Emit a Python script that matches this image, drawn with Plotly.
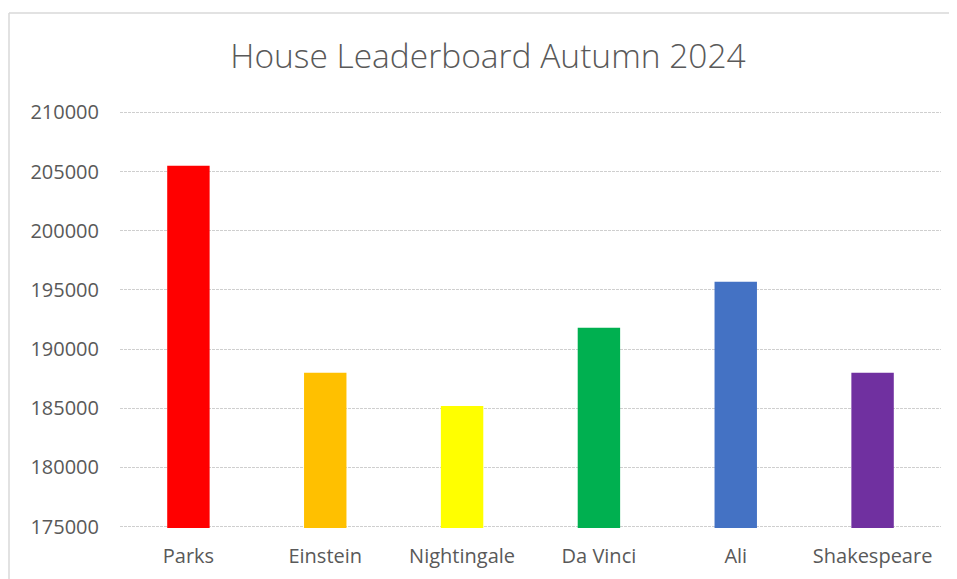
import plotly.graph_objects as go

houses = ["Parks", "Einstein", "Nightingale", "Da Vinci", "Ali", "Shakespeare"]
points = [205500, 188000, 185200, 191800, 195700, 188000]
colors = ["#FF0000", "#FFC000", "#FFFF00", "#00B050", "#4472C4", "#7030A0"]
y_ticks = [175000, 180000, 185000, 190000, 195000, 200000, 205000, 210000]

OFF = 8  # page body margin offset
W, H = 957 - OFF, 579 - OFF
L, T = 120 - OFF, 111 - OFF
R = W - (941 - OFF)
B = H - (528 - OFF)
pw, ph = W - L - R, H - T - B

fig = go.Figure(go.Bar(x=houses, y=points, marker=dict(color=colors, line=dict(width=0)),
                       width=0.31, showlegend=False))

font = "Open Sans, Segoe UI, sans-serif"
fig.update_layout(
    width=W, height=H,
    margin=dict(l=L, r=R, t=T, b=B),
    paper_bgcolor="white", plot_bgcolor="white",
    title=dict(text="House Leaderboard Autumn 2024", x=(488 - OFF) / W, xanchor="center",
               xref="container", y=1 - (56 - OFF) / H, yref="container", yanchor="middle",
               font=dict(family=font, size=33.5, color="#595959", weight=300)),
    font=dict(family=font, color="#595959"),
)
fig.update_yaxes(range=[174880, 210120], tickvals=y_ticks,
                 ticktext=[str(v) for v in y_ticks], automargin=False,
                 showgrid=True, gridcolor="#cfcfcf", gridwidth=1, griddash="3px,1px",
                 zeroline=False, showline=False, ticks="",
                 tickfont=dict(size=20, color="#595959"), ticklabelstandoff=20)
fig.update_xaxes(showgrid=False, showline=False, ticks="", zeroline=False, automargin=False,
                 tickfont=dict(size=20, color="#595959"), ticklabelstandoff=14)

# chart frame: top and left edges (light gray)
fx0 = (9 - OFF - L) / pw
fy1 = (H - B - (13 - OFF)) / ph
border = dict(color="#d9d9d9", width=1.5)
fig.add_shape(type="line", xref="paper", yref="paper", x0=fx0, x1=(W - L) / pw,
              y0=fy1, y1=fy1, line=border, layer="below")
fig.add_shape(type="line", xref="paper", yref="paper", x0=fx0, x1=fx0,
              y0=-B / ph, y1=fy1, line=border, layer="below")

fig.write_html("out.html")
